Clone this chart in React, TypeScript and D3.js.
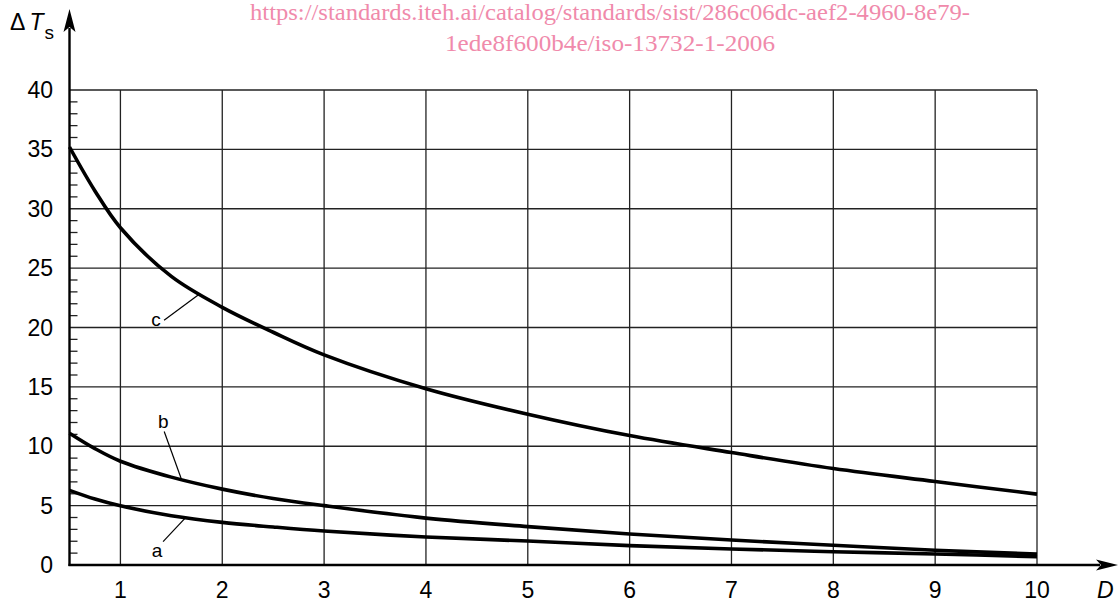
import React, { useEffect, useRef } from "react";
import * as d3 from "d3";

// values
const dValues = [0.5, 0.75, 1, 1.5, 2, 2.5, 3, 4, 5, 6, 7, 8, 9, 10];
const curveA = [6.28, 5.55, 4.98, 4.15, 3.59, 3.2, 2.86, 2.36, 2.02, 1.63, 1.35, 1.12, 0.93, 0.7];
const curveB = [11.1, 9.8, 8.74, 7.4, 6.39, 5.6, 5.0, 3.95, 3.23, 2.61, 2.1, 1.66, 1.24, 0.93];
const curveC = [35.2, 31.5, 28.4, 24.3, 21.7, 19.6, 17.7, 14.85, 12.7, 10.9, 9.47, 8.12, 7.03, 5.97];
const xTicks = [1, 2, 3, 4, 5, 6, 7, 8, 9, 10];
const yTicks = [0, 5, 10, 15, 20, 25, 30, 35, 40];
const seriesNames = ["a", "b", "c"];
// label text position and the D where the leader touches the curve
const labelAt = [
  { name: "a", d: 1.36, v: 0.7, onD: 1.64 },
  { name: "b", d: 1.42, v: 11.5, onD: 1.6 },
  { name: "c", d: 1.35, v: 20.1, onD: 1.78 },
];
const watermark = [
  "https://standards.iteh.ai/catalog/standards/sist/286c06dc-aef2-4960-8e79-",
  "1ede8f600b4e/iso-13732-1-2006",
];
const watermarkWidth = [720, 330];

const W = 1120;
const H = 602;

function drawChart(svgEl: SVGSVGElement) {
  const svg = d3.select(svgEl);
  svg.selectAll("*").remove();

  const x = d3.scaleLinear().domain([0.5, 10]).range([69.5, 1037]);
  const y = d3.scaleLinear().domain([0, 40]).range([565, 90]);
  const font = "Liberation Sans, Arial, sans-serif";

  const grid = svg.append("g").attr("stroke", "#222").attr("stroke-width", 1.3);
  // vertical grid lines
  grid.selectAll(".vg")
    .data(xTicks)
    .enter().append("line")
    .attr("x1", (d) => x(d)).attr("x2", (d) => x(d))
    .attr("y1", y(0)).attr("y2", y(40));
  // horizontal grid lines
  grid.selectAll(".hg")
    .data(yTicks.filter((t) => t > 0))
    .enter().append("line")
    .attr("x1", x(0.5)).attr("x2", x(10))
    .attr("y1", (d) => y(d)).attr("y2", (d) => y(d));

  // minor ticks on y axis
  const minor = d3.range(1, 40).filter((v) => v % 5 !== 0);
  svg.append("g").selectAll("line")
    .data(minor)
    .enter().append("line")
    .attr("x1", x(0.5)).attr("x2", x(0.5) + 8)
    .attr("y1", (d) => y(d)).attr("y2", (d) => y(d))
    .attr("stroke", "#222").attr("stroke-width", 1.3);

  // curves
  const line = d3.line<number>()
    .x((_, i) => x(dValues[i]))
    .y((v) => y(v))
    .curve(d3.curveCatmullRom.alpha(0.5));
  const allSeries = [curveA, curveB, curveC];
  svg.append("g").selectAll("path")
    .data(allSeries)
    .enter().append("path")
    .attr("d", (s) => line(s))
    .attr("fill", "none")
    .attr("stroke", "#000")
    .attr("stroke-width", 3.6);

  // axes
  const axes = svg.append("g").attr("stroke", "#000").attr("stroke-width", 2.4);
  axes.append("line")
    .attr("x1", x(0.5)).attr("x2", x(0.5))
    .attr("y1", y(0) + 1).attr("y2", 28);
  axes.append("line")
    .attr("x1", x(0.5) - 1).attr("x2", 1100)
    .attr("y1", y(0)).attr("y2", y(0));
  svg.append("path")
    .attr("d", `M${x(0.5)},9 L${x(0.5) - 6},32 L${x(0.5)},27 L${x(0.5) + 6},32 Z`)
    .attr("fill", "#000");
  svg.append("path")
    .attr("d", `M1118,${y(0)} L1096,${y(0) - 5.5} L1101,${y(0)} L1096,${y(0) + 5.5} Z`)
    .attr("fill", "#000");

  // tick labels
  svg.append("g").selectAll("text")
    .data(yTicks)
    .enter().append("text")
    .attr("x", 53)
    .attr("y", (d) => y(d) + 8)
    .attr("text-anchor", "end")
    .attr("font-family", font)
    .attr("font-size", 23)
    .text((d) => d);
  svg.append("g").selectAll("text")
    .data(xTicks)
    .enter().append("text")
    .attr("x", (d) => x(d))
    .attr("y", 598)
    .attr("text-anchor", "middle")
    .attr("font-family", font)
    .attr("font-size", 23)
    .text((d) => d);

  // axis titles
  const yt = svg.append("text")
    .attr("x", 10).attr("y", 30)
    .attr("font-family", font).attr("font-size", 23);
  yt.append("tspan").text("\u0394");
  yt.append("tspan").attr("font-style", "italic").attr("dx", 4).text("T");
  yt.append("tspan").attr("font-size", 19).attr("dx", 1).attr("dy", 9).text("s");
  svg.append("text")
    .attr("x", 1097).attr("y", 598)
    .attr("font-family", font).attr("font-size", 23)
    .attr("font-style", "italic")
    .text("D");

  // series labels with leader lines
  const interp = (s: number[], d: number) => d3.scaleLinear().domain(dValues).range(s)(d);
  labelAt.forEach((lab) => {
    const s = allSeries[seriesNames.indexOf(lab.name)];
    const tx = x(lab.d);
    const ty = y(lab.v);
    svg.append("text")
      .attr("x", tx).attr("y", ty)
      .attr("text-anchor", "middle")
      .attr("font-family", font).attr("font-size", 19)
      .text(lab.name);
    let sx = tx + 6;
    let sy = ty - 15;
    if (lab.name === "b") { sx = tx + 1; sy = ty + 3; }
    if (lab.name === "c") { sx = tx + 8; sy = ty - 6; }
    svg.append("line")
      .attr("x1", sx).attr("y1", sy)
      .attr("x2", x(lab.onD)).attr("y2", y(interp(s, lab.onD)))
      .attr("stroke", "#000").attr("stroke-width", 1.2);
  });

  // watermark
  svg.append("g").selectAll("text")
    .data(watermark)
    .enter().append("text")
    .attr("x", (_, i) => 610 - watermarkWidth[i] / 2)
    .attr("y", (_, i) => 20 + i * 31)
    .attr("textLength", (_, i) => watermarkWidth[i])
    .attr("lengthAdjust", "spacingAndGlyphs")
    .attr("font-family", "Liberation Serif, Times New Roman, serif")
    .attr("font-size", 23)
    .attr("fill", "#f08aab")
    .text((t) => t);
}

export default function App() {
  const ref = useRef<SVGSVGElement>(null);
  useEffect(() => {
    if (ref.current) drawChart(ref.current);
  }, []);
  return (
    <svg
      ref={ref}
      width={W}
      height={H}
      style={{ position: "absolute", left: 0, top: 0, background: "#fff" }}
    />
  );
}
